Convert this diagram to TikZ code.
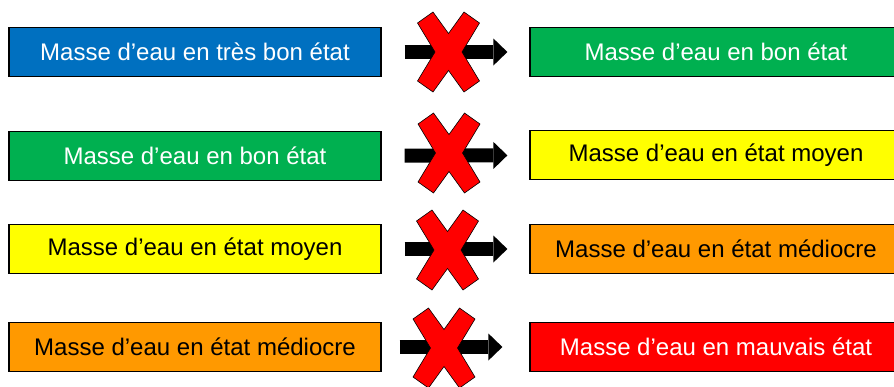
\documentclass[tikz,border=0pt]{standalone}
\usepackage{fontspec}
\setmainfont{Liberation Sans}
\usetikzlibrary{arrows.meta}

\definecolor{tresbon}{HTML}{0070C0}
\definecolor{bon}{HTML}{00B050}
\definecolor{moyen}{HTML}{FFFF00}
\definecolor{mediocre}{HTML}{FF9900}
\definecolor{mauvais}{HTML}{FF0000}

\tikzset{
  etat/.style={draw=black, line width=1.2pt, minimum width=372pt, minimum height=49pt,
    inner sep=0pt, font=\fontsize{24}{28}\selectfont},
  fleche/.style={line width=14pt, black, shorten <=23pt, shorten >=22pt,
    -{Triangle[length=14pt,width=27pt,line width=0pt]}},
  croix/.pic={
    \filldraw[fill=red, draw=black, line width=0.6pt]
      (-31,-29) -- (-15.5,-40) -- (0,-18.5) -- (15.5,-40) -- (31,-29) -- (13.5,0)
      -- (31,29) -- (15.5,40) -- (0,18.5) -- (-15.5,40) -- (-31,29) -- (-13.5,0) -- cycle;
  }
}

\begin{document}
\begin{tikzpicture}[x=1pt,y=-1pt]
	\useasboundingbox (0,0) rectangle (894,386);
	
	\begin{scope}[every node/.style={etat}]
		\node[fill=tresbon, text=white] (a1) at (195,52) {Masse d’eau en très bon état};
		\node[fill=bon, text=white] (a2) at (195,156) {Masse d’eau en bon état};
		\node[fill=moyen] (a3) at (195,249) {Masse d’eau en état moyen};
		\node[fill=mediocre] (a4) at (195,347) {Masse d’eau en état médiocre};
		
		\node[fill=bon, text=white] (b1) at (716,52) {Masse d’eau en bon état};
		\node[fill=moyen] (b2) at (716,155) {Masse d’eau en état moyen};
		\node[fill=mediocre] (b3) at (716,249) {Masse d’eau en état médiocre};
		\node[fill=mauvais, text=white] (b4) at (716,347) {Masse d’eau en mauvais état};
	\end{scope}
	
	\begin{scope}
		\draw[fleche] (a1) -- (b1);
		\draw[fleche] (a2) -- (b2);
		\draw[fleche] (a3) -- (b3);
		\draw[fleche, shorten <=18pt, shorten >=27pt] (a4) -- (b4);
	\end{scope}
	
	\pic at (448.5,52) {croix};
	\pic at (449,153) {croix};
	\pic at (447.5,250) {croix};
	\pic at (444,348) {croix};
\end{tikzpicture}
\end{document}
